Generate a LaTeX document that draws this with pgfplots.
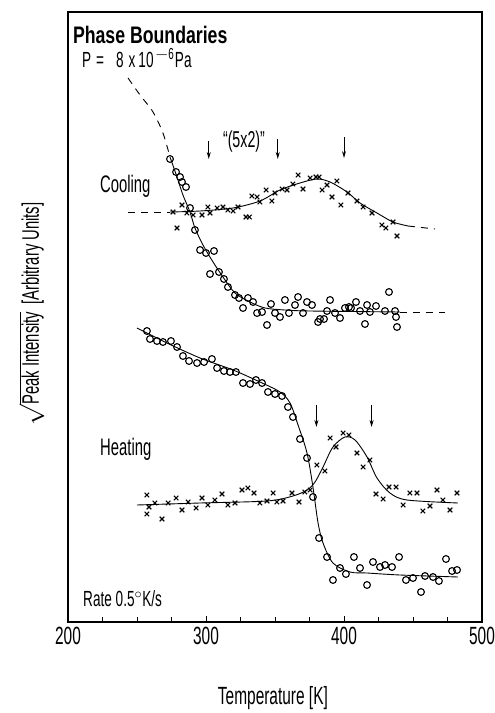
\documentclass[border=0pt]{standalone}
\usepackage{fontspec}
\setmainfont{Liberation Sans}[FakeStretch=0.62]
\newfontfamily\tfont{Liberation Sans}[FakeStretch=0.74]
\usepackage{pgfplots}
\pgfplotsset{compat=1.18}
\usetikzlibrary{arrows.meta}
\begin{document}
\begin{tikzpicture}
\useasboundingbox (-68bp,-91bp) rectangle (427bp,622bp);
\begin{axis}[
 at={(0,0)}, anchor=south west, scale only axis,
 width=414bp, height=610bp,
 xmin=200, xmax=500, ymin=0, ymax=610,
 xtick={200,300,400,500}, minor xtick={225,250,...,475},
 xtick pos=bottom, ytick=\empty, tick align=inside,
 major tick length=6bp, minor tick length=5bp,
 axis line style={line width=1.3bp},
 tick style={black, line width=1bp},
 /pgf/number format/assume math mode=true,
 xticklabel style={font=\fontsize{25}{25}\selectfont, yshift=-2bp},
 xlabel={Temperature [K]},
 xlabel style={font=\fontsize{25}{25}\selectfont, at={(axis description cs:0.495,-0.1246)}, anchor=center},
 ylabel={$\sqrt{\hbox{Peak Intensity}}$\hspace{7bp}[Arbitrary Units]},
 ylabel style={font=\fontsize{24}{24}\selectfont, at={(axis description cs:-0.088,0.505)}, anchor=center, inner sep=0pt},
 clip=false,
]
% ---- cooling: circle curve
\addplot[black, line width=0.9bp, dash pattern=on 7bp off 6bp, smooth] coordinates {
 (243.5,544) (252.2,527) (261.6,510) (268.8,489) (273.9,465)};
\addplot[black, line width=0.9bp, smooth, tension=0.5] coordinates {
 (273.9,465) (279,445) (283.3,427) (288.4,410) (292,394) (297.8,377) (305.1,360) (312.3,345) (321,329) (331.9,320) (342.8,314) (357.2,312) (375.4,311) (440.6,310)};
\addplot[black, line width=0.9bp, dash pattern=on 7bp off 6bp] coordinates {
 (440.6,310) (473.2,310)};
% ---- cooling: cross curve
\addplot[black, line width=0.9bp, dash pattern=on 7bp off 6bp] coordinates {
 (243.5,410) (273.9,410)};
\addplot[black, line width=0.9bp, smooth, tension=0.5] coordinates {
 (273.9,410) (295.7,411) (319.6,414) (339.1,421) (353.6,432) (368.1,439) (380.4,443) (389.9,440) (402.2,430) (411.6,419) (423.9,409) (435.5,400) (446.4,396)};
\addplot[black, line width=0.9bp, dash pattern=on 7bp off 6bp] coordinates {
 (446.4,396) (466,393)};
% ---- heating curves
\addplot[black, line width=0.9bp, smooth, tension=0.5] coordinates {
 (250,294) (271.7,279) (295.7,264) (319.6,252) (339.1,240) (353.6,230) (360.9,219) (366.7,197) (373.2,169) (377.5,135) (381.2,99) (384.8,79) (392,59) (404.3,50) (416.7,49) (440.6,47) (482.6,45)};
\addplot[black, line width=0.9bp, smooth, tension=0.5] coordinates {
 (250,117) (295.7,119) (344.2,121) (363,126) (373.2,132) (379,140) (384.8,155) (392,175) (400.7,185) (408,182) (416.7,165) (423.9,144) (433.3,129) (445.7,122) (482.6,119)};
% ---- cooling circles
\addplot[only marks, mark=o, mark size=3.4bp, mark options={line width=1.1bp, black}] coordinates {
 (273.9,463) (278.3,450) (281.2,445) (282.6,440) (285.5,435) (288.4,414) (292.0,392) (295.7,372) (300,369) (305.8,371)
 (302.9,348) (309.4,350) (313,343) (315.9,335) (321,327) (323.9,324) (326.8,314) (330.4,324) (334.1,320) (337,309)
 (340.6,310) (344.2,297) (347.1,318) (350,309) (353.6,305) (357.2,322) (360.1,309) (364.5,317) (366.7,325) (370.3,309)
 (373.2,320) (376.8,317) (381.2,300) (382.6,303) (385.5,303) (387.7,311) (389.9,322) (393.5,309) (397.1,304) (400.7,314)
 (403.6,315) (405.1,314) (408.7,320) (411.6,311) (415.2,298) (416.7,317) (418.8,310) (423.2,316) (429.7,311) (432.6,330)
 (437,311) (437.7,305) (438.4,295)};
% ---- cooling crosses
\addplot[only marks, mark=x, mark size=3.2bp, mark options={line width=1.1bp, black}] coordinates {
 (276.1,410) (279.0,394) (282.6,417) (286.2,409) (290.6,407) (297.1,407) (301.4,415) (302.9,409) (308.0,414) (312.3,415)
 (315.9,412) (319.6,411) (323.2,415) (329.0,405) (331.5,405) (333.3,426) (337.0,425) (339.1,420) (343.5,432) (347.8,421)
 (350.0,429) (355.1,433) (358.7,432) (363.0,438) (366.7,447) (370.3,433) (375.4,444) (379.7,445) (382.0,445) (384.1,432)
 (387.7,437) (391.3,425) (394.9,441) (397.8,417) (402.9,429) (409.4,421) (413.8,415) (420.3,409) (427.5,397) (430.4,394)
 (435.5,400) (438.4,386)};
% ---- heating circles
\addplot[only marks, mark=o, mark size=3.4bp, mark options={line width=1.1bp, black}] coordinates {
 (257.2,291) (259.4,283) (264.5,281) (268.8,280) (274.6,281) (279.0,275) (283.3,266) (287.7,261) (293.5,259) (298.6,260)
 (304.3,263) (308.0,254) (313.0,251) (317.4,250) (321.7,250) (326.8,239) (331.9,238) (336.2,242) (340.6,239) (344.9,230)
 (350.0,228) (355.1,226) (359.4,215) (363.0,205) (368.1,183) (373.2,164) (377.5,125) (381.9,84) (387.7,65) (392.0,42)
 (397.1,54) (401.4,48) (407.2,65) (411.6,54) (416.7,37) (421.0,60) (426.1,55) (429.7,57) (434.8,55) (439.9,65)
 (444.9,42) (450.0,44) (455.8,30) (458.7,46) (464.5,45) (468.8,41) (473.9,63) (478.3,51) (481.9,52)};
% ---- heating crosses
\addplot[only marks, mark=x, mark size=3.2bp, mark options={line width=1.1bp, black}] coordinates {
 (257.2,127) (258.7,115) (257.2,108) (263.0,119) (268.1,103) (272.5,119) (278.3,124) (282.6,112) (287.0,120) (292.8,114)
 (297.1,124) (301.4,117) (306.5,122) (311.6,128) (315.9,117) (321.0,119) (326.1,132) (330.4,134) (334.8,129) (339.1,119)
 (344.2,121) (348.6,129) (351.4,120) (355.8,121) (362.3,129) (367.4,120) (371.7,130) (375.4,132) (380.4,157) (386.2,151)
 (389.9,184) (394.2,175) (399.3,189) (403.6,187) (409.4,169) (413.8,155) (418.8,162) (423.2,128) (428.3,123) (432.6,135)
 (437.7,135) (442.8,117) (447.8,129) (452.9,129) (457.2,111) (462.3,116) (467.4,132) (471.7,122) (476.8,112) (481.9,129)};
% ---- annotations
\draw[black, line width=0.9bp, -{Stealth[length=7bp,width=4bp]}] (axis cs:302,481) -- (axis cs:302,463);
\draw[black, line width=0.9bp, -{Stealth[length=7bp,width=4bp]}] (axis cs:352,483) -- (axis cs:352,463);
\draw[black, line width=0.9bp, -{Stealth[length=7bp,width=4bp]}] (axis cs:400,485) -- (axis cs:400,464);
\draw[black, line width=0.9bp, -{Stealth[length=7bp,width=4bp]}] (axis cs:380,217) -- (axis cs:380,195);
\draw[black, line width=0.9bp, -{Stealth[length=7bp,width=4bp]}] (axis cs:420,217) -- (axis cs:420,195);
\node[anchor=base, inner sep=0pt, font=\fontsize{23}{23}\selectfont] at (axis cs:327.5,475) {``(5x2)''};
\node[anchor=base west, inner sep=0pt, font=\tfont\bfseries\fontsize{24}{24}\selectfont] at (axis cs:203.5,579) {Phase Boundaries};
\node[anchor=base west, inner sep=0pt, font=\fontsize{22}{22}\selectfont] at (axis cs:210.1,555) {P\hspace{5bp}=\hspace{12bp}8\hspace{5bp}x\hspace{3bp}10\hspace{1.5bp}\raisebox{8bp}{\fontsize{16}{16}\selectfont $-$6}\hspace{1bp}Pa};
\node[anchor=base west, inner sep=0pt, font=\fontsize{24}{24}\selectfont] at (axis cs:223.2,430) {Cooling};
\node[anchor=base west, inner sep=0pt, font=\fontsize{24}{24}\selectfont] at (axis cs:223.2,167) {Heating};
\node[anchor=base west, inner sep=0pt, font=\fontsize{22}{22}\selectfont] at (axis cs:210.9,16) {Rate 0.5$^\circ$K/s};
\end{axis}
\end{tikzpicture}
\end{document}
